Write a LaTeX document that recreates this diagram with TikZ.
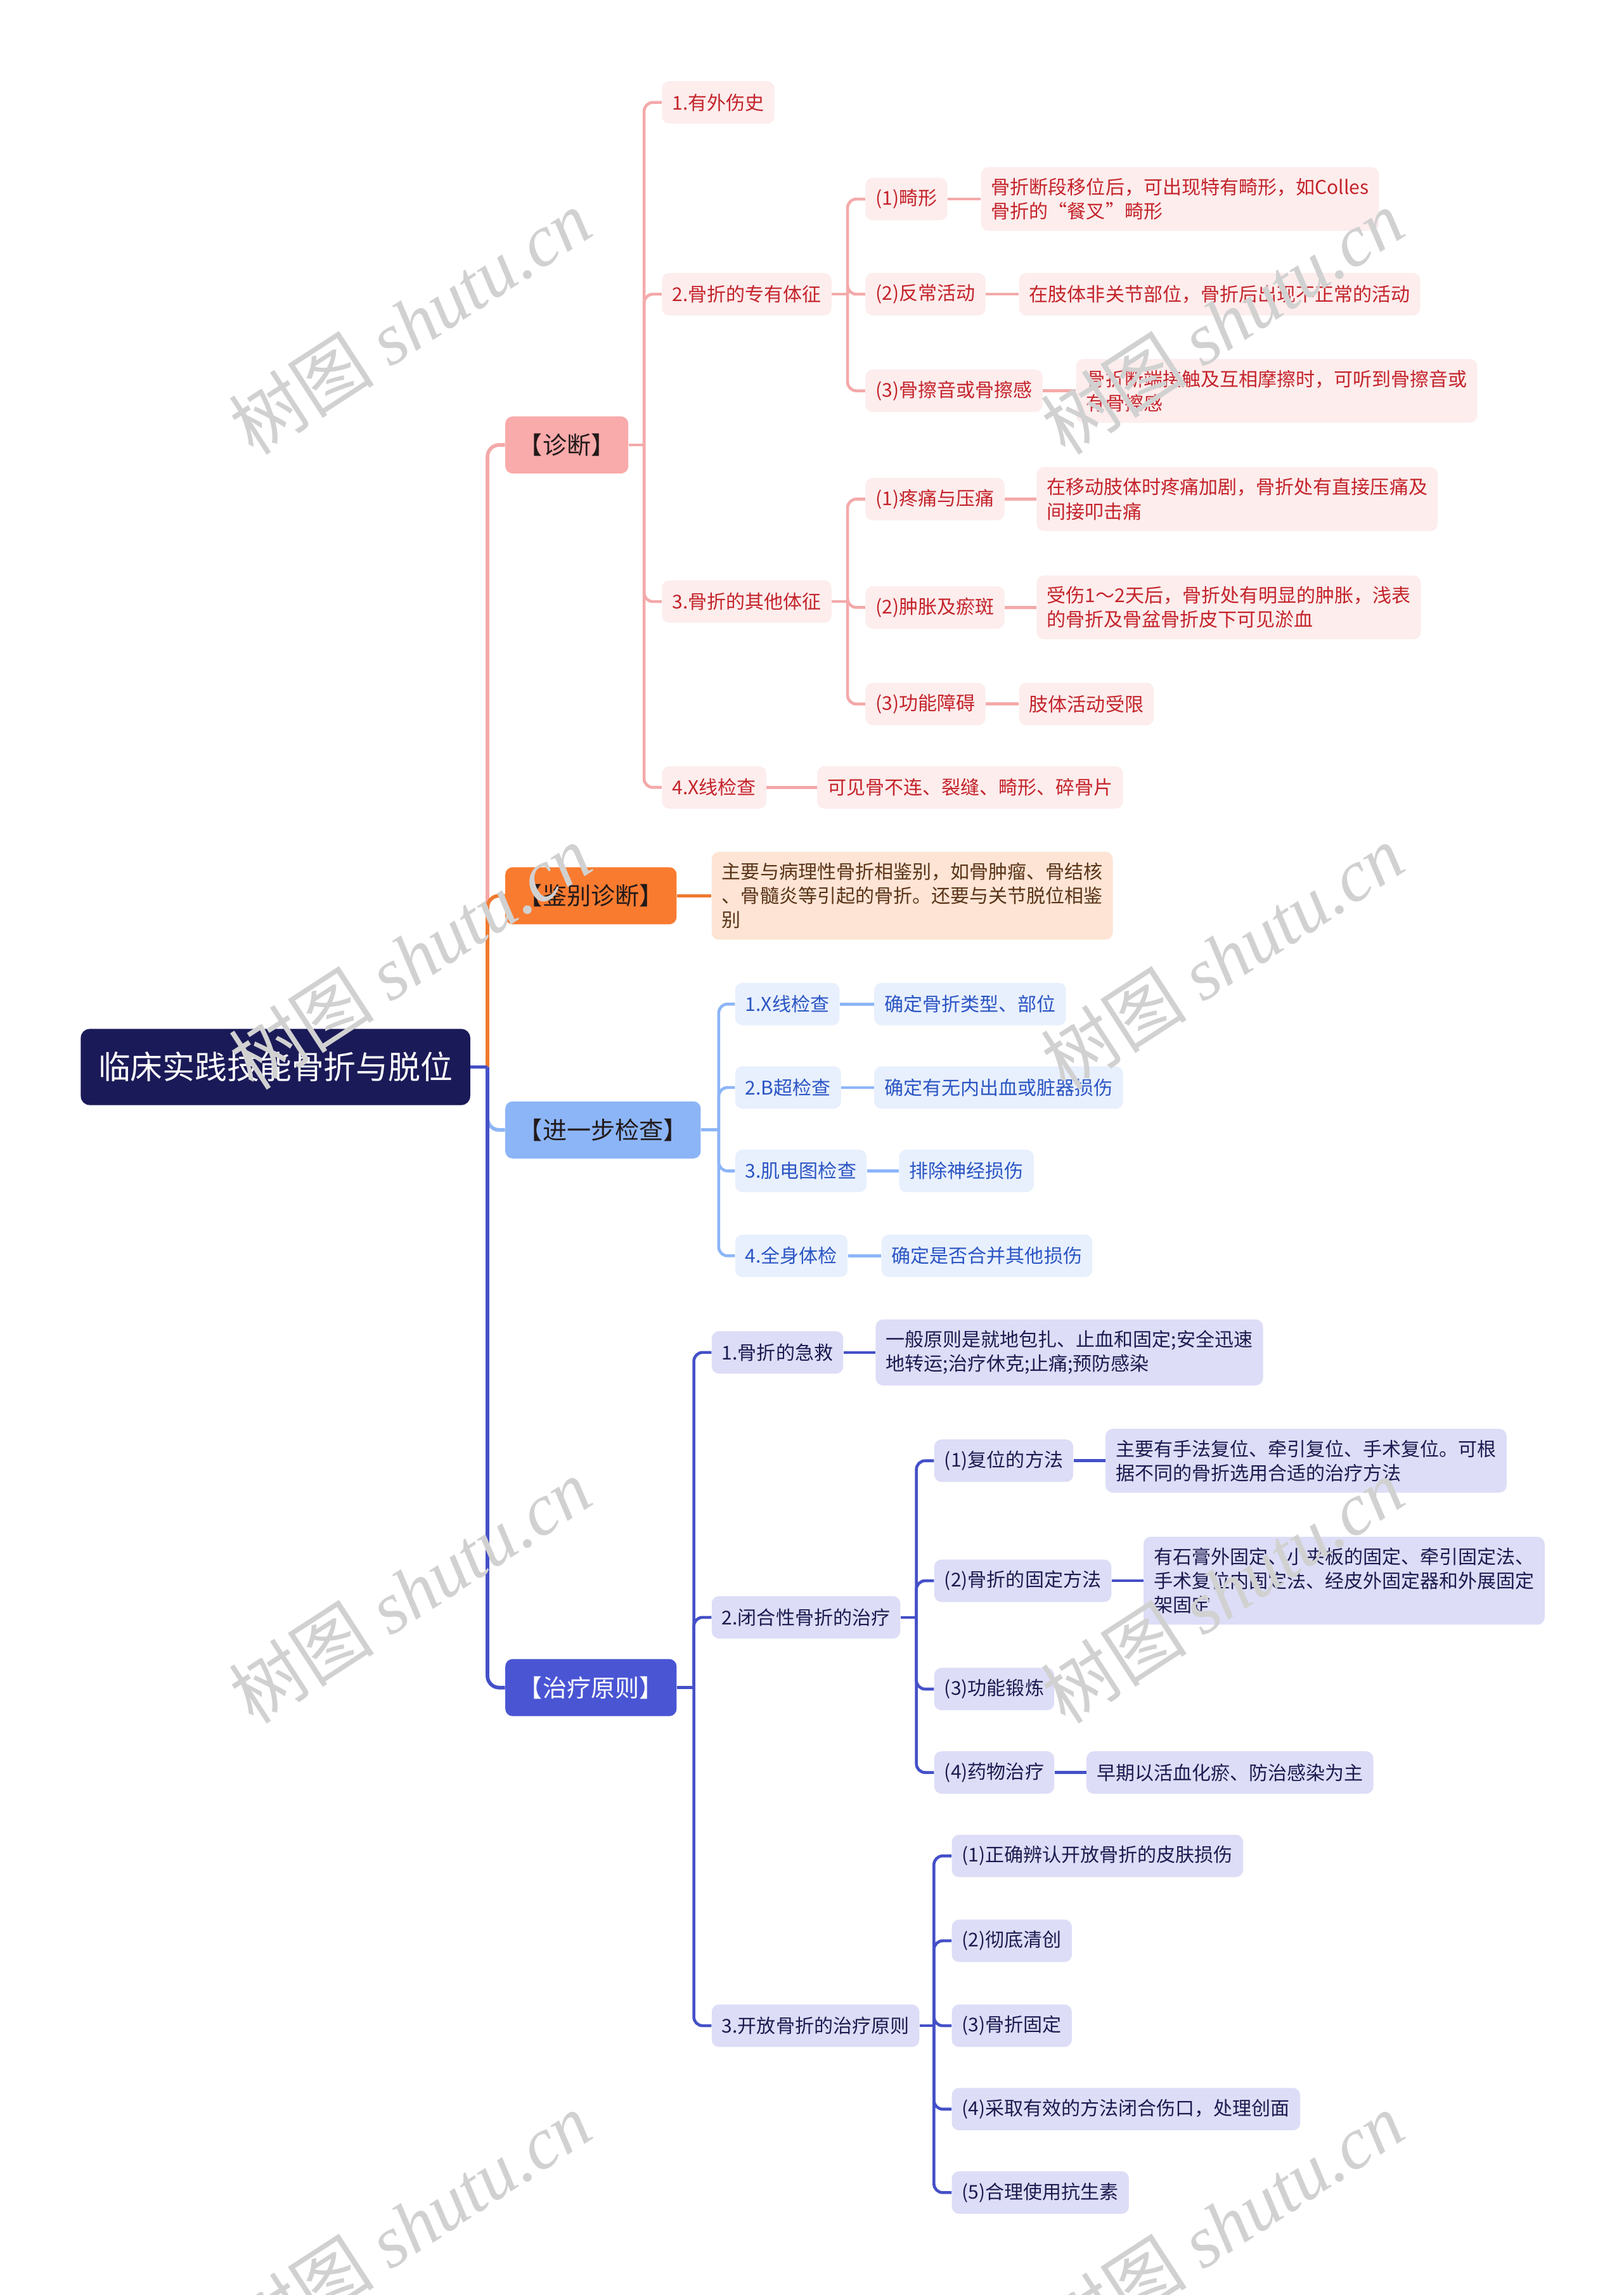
\documentclass[tikz,border=0pt]{standalone}
\usepackage{fontspec}
\setmainfont{Noto Sans CJK SC}
\newfontfamily\wmlatin{Liberation Serif}
\definecolor{rootfill}{HTML}{1B1A58}
\definecolor{zdfill}{HTML}{F9AAAA}
\definecolor{zdline}{HTML}{F4A9A9}
\definecolor{zdcfill}{HTML}{FDEDED}
\definecolor{zdtext}{HTML}{C4242B}
\definecolor{jbfill}{HTML}{F97B30}
\definecolor{jbline}{HTML}{F07A30}
\definecolor{jbcfill}{HTML}{FDE4D4}
\definecolor{jbtext}{HTML}{5A3418}
\definecolor{jcfill}{HTML}{8CB5F7}
\definecolor{jcline}{HTML}{8CB5F7}
\definecolor{jccfill}{HTML}{E8F0FD}
\definecolor{jctext}{HTML}{2B55C4}
\definecolor{zlfill}{HTML}{4A55D4}
\definecolor{zlline}{HTML}{4450C8}
\definecolor{zlcfill}{HTML}{DDDDF7}
\definecolor{zltext}{HTML}{1B1B50}
\definecolor{darktxt}{HTML}{221A1A}
\tikzset{
  base/.style={rounded corners=5, inner xsep=7, inner ysep=7.5, minimum height=29,
    anchor=west, font=\fontsize{13}{16.5}\selectfont, align=left},
  pk/.style={base, fill=zdcfill, text=zdtext},
  og/.style={base, fill=jbcfill, text=jbtext},
  lb/.style={base, fill=jccfill, text=jctext},
  dv/.style={base, fill=zlcfill, text=zltext},
  lone/.style={rounded corners=5, inner xsep=9, inner ysep=4, minimum height=39,
    anchor=west, font=\fontsize{16.5}{18}\selectfont},
  pkline/.style={draw=zdline, line width=2},
  ogline/.style={draw=jbline, line width=2},
  lbline/.style={draw=jcline, line width=2},
  dvline/.style={draw=zlline, line width=2},
  wm/.style={rotate=33, text=black!18, font=\fontsize{50}{50}\selectfont}
}
\begin{document}
\begin{tikzpicture}[x=1pt,y=-1pt]
\useasboundingbox (0,0) rectangle (1109,1568);
\fill[white] (0,0) rectangle (1109,1568);

% root
\node[rounded corners=6, fill=rootfill, text=white, anchor=west, minimum height=52,
  inner xsep=12, font=\fontsize{22}{24}\selectfont] (root) at (55,729) {临床实践技能骨折与脱位};

% level 1
\node[lone, fill=zdfill, text=darktxt] (zd) at (345,304) {【诊断】};
\node[lone, fill=jbfill, text=darktxt] (jb) at (345,612) {【鉴别诊断】};
\node[lone, fill=jcfill, text=darktxt] (jc) at (345,772) {【进一步检查】};
\node[lone, fill=zlfill, text=white] (zl) at (345,1153) {【治疗原则】};

\coordinate (J0) at (333,729);
\draw[pkline, line width=2.5] (root.east) -- (J0);
\draw[pkline, line width=2.5, rounded corners=8] (J0) |- (zd.west);
\draw[ogline, line width=2.5, rounded corners=8] (J0) |- (jb.west);
\draw[lbline, line width=2.5, rounded corners=8] (J0) |- (jc.west);
\draw[dvline, line width=2.5, rounded corners=8] (J0) |- (zl.west);
\draw[dvline, line width=2.5] (root.east) -- (J0);

% diagnosis branch
\node[pk] (zd1) at (452,70) {1.有外伤史};
\node[pk] (zd2) at (452,201) {2.骨折的专有体征};
\node[pk] (zd3) at (452,411) {3.骨折的其他体征};
\node[pk] (zd4) at (452,538) {4.X线检查};
\node[pk] (zd4a) at (558,538) {可见骨不连、裂缝、畸形、碎骨片};
\node[pk] (zd21) at (591,136) {(1)畸形};
\node[pk] (zd21a) at (670,136) {骨折断段移位后，可出现特有畸形，如Colles\\骨折的“餐叉”畸形};
\node[pk] (zd22) at (591,201) {(2)反常活动};
\node[pk] (zd22a) at (696,201) {在肢体非关节部位，骨折后出现不正常的活动};
\node[pk] (zd23) at (591,267) {(3)骨擦音或骨擦感};
\node[pk] (zd23a) at (735,267) {骨折断端接触及互相摩擦时，可听到骨擦音或\\有骨擦感};
\node[pk] (zd31) at (591,341) {(1)疼痛与压痛};
\node[pk] (zd31a) at (708,341) {在移动肢体时疼痛加剧，骨折处有直接压痛及\\间接叩击痛};
\node[pk] (zd32) at (591,415) {(2)肿胀及瘀斑};
\node[pk] (zd32a) at (708,415) {受伤1～2天后，骨折处有明显的肿胀，浅表\\的骨折及骨盆骨折皮下可见淤血};
\node[pk] (zd33) at (591,481) {(3)功能障碍};
\node[pk] (zd33a) at (696,481) {肢体活动受限};

\coordinate (J1) at (440,304);
\draw[pkline] (zd.east) -- (J1);
\foreach \c in {zd1,zd2,zd3,zd4} \draw[pkline, rounded corners=6] (J1) |- (\c.west);
\coordinate (J2) at (579,201);
\draw[pkline] (zd2.east) -- (J2);
\foreach \c in {zd21,zd22,zd23} \draw[pkline, rounded corners=6] (J2) |- (\c.west);
\coordinate (J3) at (579,411);
\draw[pkline] (zd3.east) -- (J3);
\foreach \c in {zd31,zd32,zd33} \draw[pkline, rounded corners=6] (J3) |- (\c.west);
\foreach \c in {zd4,zd21,zd22,zd23,zd31,zd32,zd33} \draw[pkline] (\c.east) -- (\c a.west);

% differential diagnosis
\node[og] (jba) at (486,612) {主要与病理性骨折相鉴别，如骨肿瘤、骨结核\\、骨髓炎等引起的骨折。还要与关节脱位相鉴\\别};
\draw[ogline] (jb.east) -- (jba.west);

% further examination
\node[lb] (jc1) at (502,686) {1.X线检查};
\node[lb] (jc1a) at (597,686) {确定骨折类型、部位};
\node[lb] (jc2) at (502,743) {2.B超检查};
\node[lb] (jc2a) at (597,743) {确定有无内出血或脏器损伤};
\node[lb] (jc3) at (502,800) {3.肌电图检查};
\node[lb] (jc3a) at (614,800) {排除神经损伤};
\node[lb] (jc4) at (502,858) {4.全身体检};
\node[lb] (jc4a) at (602,858) {确定是否合并其他损伤};
\coordinate (J4) at (491,772);
\draw[lbline] (jc.east) -- (J4);
\foreach \c in {jc1,jc2,jc3,jc4} {
  \draw[lbline, rounded corners=6] (J4) |- (\c.west);
  \draw[lbline] (\c.east) -- (\c a.west);
}

% treatment
\node[dv] (zl1) at (486,924) {1.骨折的急救};
\node[dv] (zl1a) at (598,924) {一般原则是就地包扎、止血和固定;安全迅速\\地转运;治疗休克;止痛;预防感染};
\node[dv] (zl2) at (486,1105) {2.闭合性骨折的治疗};
\node[dv] (zl21) at (638,998) {(1)复位的方法};
\node[dv] (zl21a) at (755,998) {主要有手法复位、牵引复位、手术复位。可根\\据不同的骨折选用合适的治疗方法};
\node[dv] (zl22) at (638,1080) {(2)骨折的固定方法};
\node[dv] (zl22a) at (781,1080) {有石膏外固定、小夹板的固定、牵引固定法、\\手术复位内固定法、经皮外固定器和外展固定\\架固定};
\node[dv] (zl23) at (638,1154) {(3)功能锻炼};
\node[dv] (zl24) at (638,1211) {(4)药物治疗};
\node[dv] (zl24a) at (742,1211) {早期以活血化瘀、防治感染为主};
\node[dv] (zl3) at (486,1384) {3.开放骨折的治疗原则};
\node[dv] (zl31) at (650,1268) {(1)正确辨认开放骨折的皮肤损伤};
\node[dv] (zl32) at (650,1326) {(2)彻底清创};
\node[dv] (zl33) at (650,1384) {(3)骨折固定};
\node[dv] (zl34) at (650,1441) {(4)采取有效的方法闭合伤口，处理创面};
\node[dv] (zl35) at (650,1498) {(5)合理使用抗生素};

\coordinate (J5) at (474,1153);
\draw[dvline] (zl.east) -- (J5);
\foreach \c in {zl1,zl2,zl3} \draw[dvline, rounded corners=6] (J5) |- (\c.west);
\coordinate (J6) at (626,1105);
\draw[dvline] (zl2.east) -- (J6);
\foreach \c in {zl21,zl22,zl23,zl24} \draw[dvline, rounded corners=6] (J6) |- (\c.west);
\coordinate (J7) at (638,1384);
\draw[dvline] (zl3.east) -- (J7);
\foreach \c in {zl31,zl32,zl33,zl34,zl35} \draw[dvline, rounded corners=6] (J7) |- (\c.west);
\foreach \c in {zl1,zl21,zl22,zl24} \draw[dvline] (\c.east) -- (\c a.west);

% watermarks
\foreach \wx/\wy [count=\i] in {280/220,835/220,280/654,835/654,280/1087,835/1087,280/1520,835/1520}
  \node[wm] (wm\i) at (\wx,\wy) {树图 {\wmlatin\itshape shutu.cn}};
\end{tikzpicture}
\end{document}
